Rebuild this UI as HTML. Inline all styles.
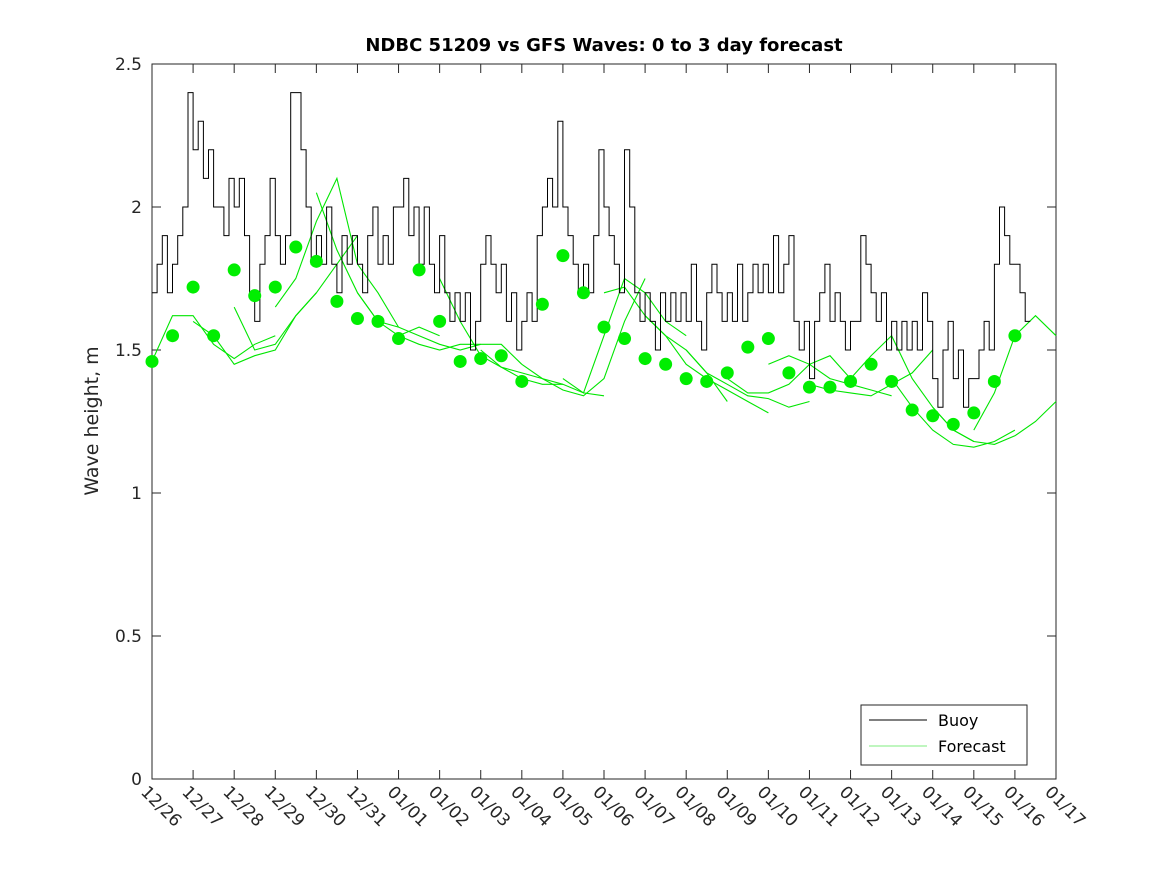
<!DOCTYPE html>
<html><head><meta charset="utf-8"><style>
body{margin:0;background:#fff;}
svg{display:block;font-family:"DejaVu Sans","Liberation Sans",sans-serif;}
</style></head><body>
<svg id="chart" width="1167" height="875" xmlns="http://www.w3.org/2000/svg">
<rect x="0" y="0" width="1167" height="875" fill="#fff"/>
<rect x="152" y="64" width="904" height="715" fill="#fff" stroke="#262626" stroke-width="1"/>
<g id="grid"></g>
<g id="fc"></g>
<g id="buoy"></g>
<g id="dots"></g>
<text x="604" y="51" text-anchor="middle" font-size="18" font-weight="bold" fill="#000">NDBC 51209 vs GFS Waves: 0 to 3 day forecast</text>
<text transform="translate(98,421) rotate(-90)" text-anchor="middle" font-size="19" fill="#262626">Wave height, m</text>
<g>
<rect x="861" y="705" width="166" height="60" fill="#fff" stroke="#262626" stroke-width="1"/>
<line x1="869" y1="720" x2="927" y2="720" stroke="#000" stroke-width="1"/>
<text x="938" y="726" font-size="16" fill="#000">Buoy</text>
<line x1="869" y1="746" x2="927" y2="746" stroke="#00dd00" stroke-width="0.6"/>
<text x="938" y="752" font-size="16" fill="#000">Forecast</text>
</g>
</svg>
<script>
const yTicks = [0, 0.5, 1, 1.5, 2, 2.5];
const yTickLabels = ["0", "0.5", "1", "1.5", "2", "2.5"];
const xTickLabels = ["12/26","12/27","12/28","12/29","12/30","12/31","01/01","01/02","01/03","01/04","01/05","01/06","01/07","01/08","01/09","01/10","01/11","01/12","01/13","01/14","01/15","01/16","01/17"];
const analysisValues = [1.46,1.55,1.72,1.55,1.78,1.69,1.72,1.86,1.81,1.67,1.61,1.60,1.54,1.78,1.60,1.46,1.47,1.48,1.39,1.66,1.83,1.70,1.58,1.54,1.47,1.45,1.40,1.39,1.42,1.51,1.54,1.42,1.37,1.37,1.39,1.45,1.39,1.29,1.27,1.24,1.28,1.39,1.55];
const buoyValues = [
1.7,1.8,1.9,1.7,1.8,1.9,2.0,2.4,
2.2,2.3,2.1,2.2,2.0,2.0,1.9,2.1,
2.0,2.1,1.9,1.7,1.6,1.8,1.9,2.1,
1.9,1.8,1.9,2.4,2.4,2.2,2.0,1.8,
1.9,1.8,2.0,1.8,1.7,1.9,1.8,1.9,
1.8,1.7,1.9,2.0,1.8,1.9,1.8,2.0,
2.0,2.1,1.9,2.0,1.8,2.0,1.8,1.7,
1.9,1.7,1.6,1.7,1.6,1.7,1.5,1.6,
1.8,1.9,1.8,1.7,1.8,1.6,1.7,1.5,
1.6,1.7,1.6,1.9,2.0,2.1,2.0,2.3,
2.0,1.9,1.8,1.7,1.8,1.7,1.9,2.2,
2.0,1.9,1.8,1.7,2.2,2.0,1.7,1.6,
1.7,1.6,1.5,1.7,1.6,1.7,1.6,1.7,
1.6,1.8,1.6,1.5,1.7,1.8,1.7,1.6,
1.7,1.6,1.8,1.6,1.7,1.8,1.7,1.8,
1.7,1.9,1.7,1.8,1.9,1.6,1.5,1.6,
1.4,1.6,1.7,1.8,1.6,1.7,1.6,1.5,
1.6,1.6,1.9,1.8,1.7,1.6,1.7,1.5,
1.6,1.5,1.6,1.5,1.6,1.5,1.7,1.6,
1.4,1.3,1.5,1.6,1.4,1.5,1.3,1.4,
1.4,1.5,1.6,1.5,1.8,2.0,1.9,1.8,
1.8,1.7,1.6];
const forecastStartDays = [0,1,2,3,4,5,6,7,8,9,10,11,12,13,14,15,16,17,18,19,20];
const forecastValues = [
[1.46,1.62,1.62,1.52,1.47,1.52,1.55],
[1.60,1.55,1.45,1.48,1.50,1.62,1.70],
[1.65,1.50,1.52,1.62,1.70,1.80,1.90],
[1.65,1.75,1.95,2.10,1.80,1.70,1.58],
[2.05,1.85,1.70,1.60,1.55,1.58,1.55],
[1.70,1.60,1.58,1.55,1.52,1.50,1.52],
[1.55,1.52,1.50,1.52,1.52,1.52,1.45],
[1.75,1.60,1.48,1.44,1.42,1.40,1.38],
[1.50,1.44,1.40,1.38,1.38,1.35,1.34],
[1.45,1.40,1.36,1.34,1.40,1.60,1.75],
[1.40,1.35,1.55,1.75,1.70,1.60,1.55],
[1.70,1.72,1.62,1.55,1.50,1.42,1.32],
[1.62,1.55,1.45,1.40,1.36,1.32,1.28],
[1.50,1.42,1.38,1.34,1.33,1.30,1.32],
[1.40,1.35,1.35,1.38,1.45,1.48,1.40],
[1.45,1.48,1.45,1.40,1.38,1.36,1.34],
[1.38,1.36,1.35,1.34,1.38,1.42,1.50],
[1.40,1.48,1.55,1.40,1.30,1.22,1.18],
[1.40,1.30,1.22,1.17,1.16,1.18,1.22],
[1.30,1.22,1.18,1.17,1.20,1.25,1.32],
[1.22,1.35,1.55,1.62,1.55]];

const NS = "http://www.w3.org/2000/svg";
const X0 = 152, X1 = 1056, Y0 = 779, Y1 = 64, DAYS = 22, YMAX = 2.5;
function xs(d){ return X0 + (X1 - X0) * d / DAYS; }
function ys(v){ return Y0 - (Y0 - Y1) * v / YMAX; }
function mk(tag, attrs, parent){ const e = document.createElementNS(NS, tag); for (const k in attrs) e.setAttribute(k, attrs[k]); parent.appendChild(e); return e; }

const grid = document.getElementById('grid');
yTicks.forEach((v, i) => {
  const y = ys(v);
  const t1 = mk('line', {x1: X0, y1: y, x2: X0 + 9, y2: y, stroke: '#262626'}, grid);
  
  
  const t2 = mk('line', {x1: X1 - 9, y1: y, x2: X1, y2: y, stroke: '#262626'}, grid);
  
  
  const tx = mk('text', {x: X0 - 10, y: y + 6, 'text-anchor': 'end', 'font-size': 17, fill: '#262626'}, grid);
  tx.textContent = yTickLabels[i];
  
  
});
xTickLabels.forEach((lab, i) => {
  const x = xs(i);
  const t1 = mk('line', {x1: x, y1: Y0, x2: x, y2: Y0 - 9, stroke: '#262626'}, grid);
  
  
  const t2 = mk('line', {x1: x, y1: Y1, x2: x, y2: Y1 + 9, stroke: '#262626'}, grid);
  
  
  const tx = mk('text', {transform: `translate(${x - 12},${Y0 + 14}) rotate(45)`, 'font-size': 17, fill: '#262626'}, grid);
  tx.textContent = lab;
  
  
});

const fc = document.getElementById('fc');
forecastValues.forEach((arr, k) => {
  const s = forecastStartDays[k];
  const pts = arr.map((v, j) => xs(s + j * 0.5).toFixed(1) + ',' + ys(v).toFixed(1)).join(' ');
  const p = mk('polyline', {points: pts, fill: 'none', stroke: '#00e600', 'stroke-width': 1.1}, fc);
  
  
});

const buoy = document.getElementById('buoy');
let bp = [];
buoyValues.forEach((v, i) => {
  const xa = xs(i / 8), xb = xs((i + 1) / 8);
  bp.push(xa.toFixed(1) + ',' + ys(v).toFixed(1));
  bp.push(xb.toFixed(1) + ',' + ys(v).toFixed(1));
});
const bl = mk('polyline', {points: bp.join(' '), fill: 'none', stroke: '#000', 'stroke-width': 1}, buoy);



const dots = document.getElementById('dots');
analysisValues.forEach((v, i) => {
  const c = mk('circle', {cx: xs(i * 0.5), cy: ys(v), r: 6.5, fill: '#00ee00'}, dots);
  
  
});
</script>
</body></html>
